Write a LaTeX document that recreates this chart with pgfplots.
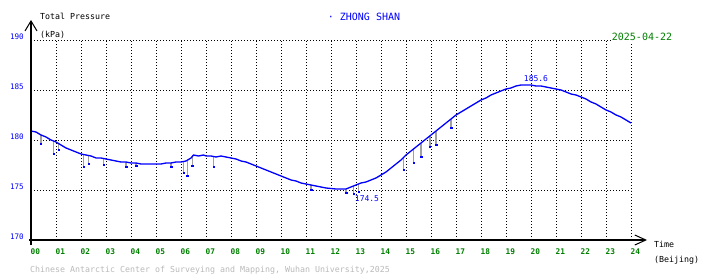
\documentclass[border=0pt]{standalone}
\usepackage{fontspec}
\setmainfont{DejaVu Sans Mono}
\usepackage{pgfplots}
\pgfplotsset{compat=1.18}
\usetikzlibrary{arrows.meta}
\definecolor{pblue}{RGB}{0,0,255}
\definecolor{pgreen}{RGB}{0,128,0}
\definecolor{pgray}{RGB}{160,160,160}
\definecolor{fgray}{RGB}{185,185,185}
\begin{document}
\begin{tikzpicture}
\begin{axis}[
  scale only axis, width=600pt, height=200pt,
  at={(0,0)}, anchor=south west,
  xmin=0, xmax=24, ymin=170, ymax=190,
  clip=false,
  axis line style={draw=none},
  tick style={draw=none},
  grid=major,
  grid style={black, line width=0.9pt, dash pattern=on 0.9pt off 2.1pt},
  xtick={0,1,...,24},
  xticklabels={00,01,02,03,04,05,06,07,08,09,10,11,12,13,14,15,16,17,18,19,20,21,22,23,24},
  ytick={170,175,180,185,190},
  yticklabels={170,175,180,185,190},
  xticklabel style={anchor=west, inner sep=0pt, xshift=-0.5pt, yshift=-12pt, text=pgreen, font=\fontsize{7.8}{9}\selectfont\bfseries},
  yticklabel style={anchor=east, inner sep=0pt, xshift=-7pt, yshift=3pt, text=pblue, font=\fontsize{7.6}{9}\selectfont},
]
% gray spikes: bottom value with the length up to the curve
\addplot[draw=none, mark=square*, mark size=0.7pt, pblue,
  error bars/.cd, y dir=plus, y explicit,
  error bar style={pgray, line width=1.5pt}, error mark=none]
  coordinates {
(0.4,179.6) +- (0,0.9)
(0.9,178.6) +- (0,1.3)
(1.1,179.0) +- (0,0.6)
(2.1,177.3) +- (0,1.3)
(2.3,177.6) +- (0,0.9)
(2.9,177.5) +- (0,0.7)
(3.8,177.3) +- (0,0.5)
(4.2,177.4) +- (0,0.3)
(5.6,177.3) +- (0,0.4)
(6.1,176.7) +- (0,1.15)
(6.25,176.4) +- (0,1.5)
(6.45,177.4) +- (0,0.9)
(7.3,177.3) +- (0,1.1)
(11.2,175.0) +- (0,0.5)
(12.6,174.7) +- (0,0.4)
(12.9,174.6) +- (0,0.8)
(13.1,174.8) +- (0,0.8)
(14.9,177.0) +- (0,1.2)
(15.3,177.7) +- (0,1.4)
(15.6,178.3) +- (0,1.4)
(15.95,179.3) +- (0,1.1)
(16.2,179.5) +- (0,1.4)
(16.8,181.2) +- (0,0.9)
};
% main series
\addplot[pblue, line width=1.3pt] coordinates {
(0.0,180.9) (0.2,180.8) (0.4,180.5) (0.6,180.3) (0.8,180.0) (1.0,179.8)
(1.2,179.5) (1.4,179.2) (1.6,179.0) (1.8,178.8) (2.0,178.6) (2.2,178.5)
(2.4,178.4) (2.6,178.2) (2.8,178.2) (3.0,178.1) (3.2,178.0) (3.4,177.9)
(3.6,177.8) (3.8,177.8) (4.0,177.7) (4.2,177.7) (4.4,177.6) (4.6,177.6)
(4.8,177.6) (5.0,177.6) (5.2,177.6) (5.4,177.7) (5.6,177.7) (5.8,177.8)
(6.0,177.8) (6.2,177.9) (6.4,178.2) (6.5,178.5) (6.7,178.4) (6.9,178.5)
(7.0,178.4) (7.2,178.4) (7.4,178.3) (7.6,178.4) (7.8,178.3) (8.0,178.2)
(8.2,178.1) (8.4,177.9) (8.6,177.8) (8.8,177.6) (9.0,177.4) (9.2,177.2)
(9.4,177.0) (9.6,176.8) (9.8,176.6) (10.0,176.4) (10.2,176.2) (10.4,176.0)
(10.6,175.9) (10.8,175.7) (11.0,175.6) (11.2,175.5) (11.4,175.4) (11.6,175.3)
(11.8,175.2) (12.0,175.15) (12.2,175.1) (12.4,175.1) (12.6,175.1) (12.8,175.3)
(13.0,175.5) (13.2,175.7) (13.4,175.8) (13.6,176.0) (13.8,176.2) (14.0,176.5)
(14.2,176.8) (14.4,177.2) (14.6,177.6) (14.8,178.0) (15.0,178.5) (15.2,178.9)
(15.4,179.3) (15.6,179.7) (15.8,180.1) (16.0,180.5) (16.2,180.9) (16.4,181.3)
(16.6,181.7) (16.8,182.1) (17.0,182.5) (17.2,182.8) (17.4,183.1) (17.6,183.4)
(17.8,183.7) (18.0,184.0) (18.2,184.2) (18.4,184.5) (18.6,184.7) (18.8,184.9)
(19.0,185.1) (19.2,185.2) (19.4,185.4) (19.6,185.5) (19.8,185.5) (20.0,185.5)
(20.2,185.4) (20.4,185.4) (20.6,185.3) (20.8,185.2) (21.0,185.1) (21.2,185.0)
(21.4,184.8) (21.6,184.6) (21.8,184.5) (22.0,184.3) (22.2,184.1) (22.4,183.8)
(22.6,183.6) (22.8,183.3) (23.0,183.0) (23.2,182.8) (23.4,182.5) (23.6,182.3)
(23.8,182.0) (24.0,181.7)
};
% axes with open arrowheads
\draw[black, line width=1.3pt, -{Straight Barb[length=10pt,width=12pt,line width=1pt]}] (axis cs:0,169.5) -- (axis cs:0,192);
\draw[black, line width=1.3pt, -{Straight Barb[length=11pt,width=10pt,line width=1pt]}] (axis cs:-0.08,170) -- (axis cs:24.64,170);
% texts
\node[anchor=west, inner sep=0pt, font=\fontsize{8.3}{10}\selectfont] at (axis cs:0.36,192.4) {Total Pressure};
\node[anchor=west, inner sep=0pt, font=\fontsize{8.3}{10}\selectfont] at (axis cs:0.36,190.55) {(kPa)};
\node[inner sep=0pt, text=pblue, font=\fontsize{10}{12}\selectfont] at (axis cs:13.32,192.3) {· ZHONG SHAN};
\node[fill=white, inner sep=1pt, text=pgreen, font=\fontsize{10}{12}\selectfont] at (axis cs:24.44,190.3) {2025-04-22};
\node[anchor=west, inner sep=0pt, font=\fontsize{8.3}{10}\selectfont] at (axis cs:24.92,169.55) {Time};
\node[anchor=west, inner sep=0pt, font=\fontsize{8.3}{10}\selectfont] at (axis cs:24.92,168.0) {(Beijing)};
\node[anchor=west, inner sep=0pt, text=fgray, font=\fontsize{8.3}{10}\selectfont] at (axis cs:-0.04,167.0) {Chinese Antarctic Center of Surveying and Mapping, Wuhan University,2025};
\node[inner sep=0pt, text=pblue, font=\fontsize{8}{10}\selectfont] at (axis cs:20.2,186.1) {185.6};
\node[inner sep=0pt, text=pblue, font=\fontsize{8}{10}\selectfont] at (axis cs:13.44,174.1) {174.5};
\end{axis}
\pgfresetboundingbox
\useasboundingbox (-31pt,-38pt) rectangle (679pt,240pt);
\end{tikzpicture}
\end{document}
